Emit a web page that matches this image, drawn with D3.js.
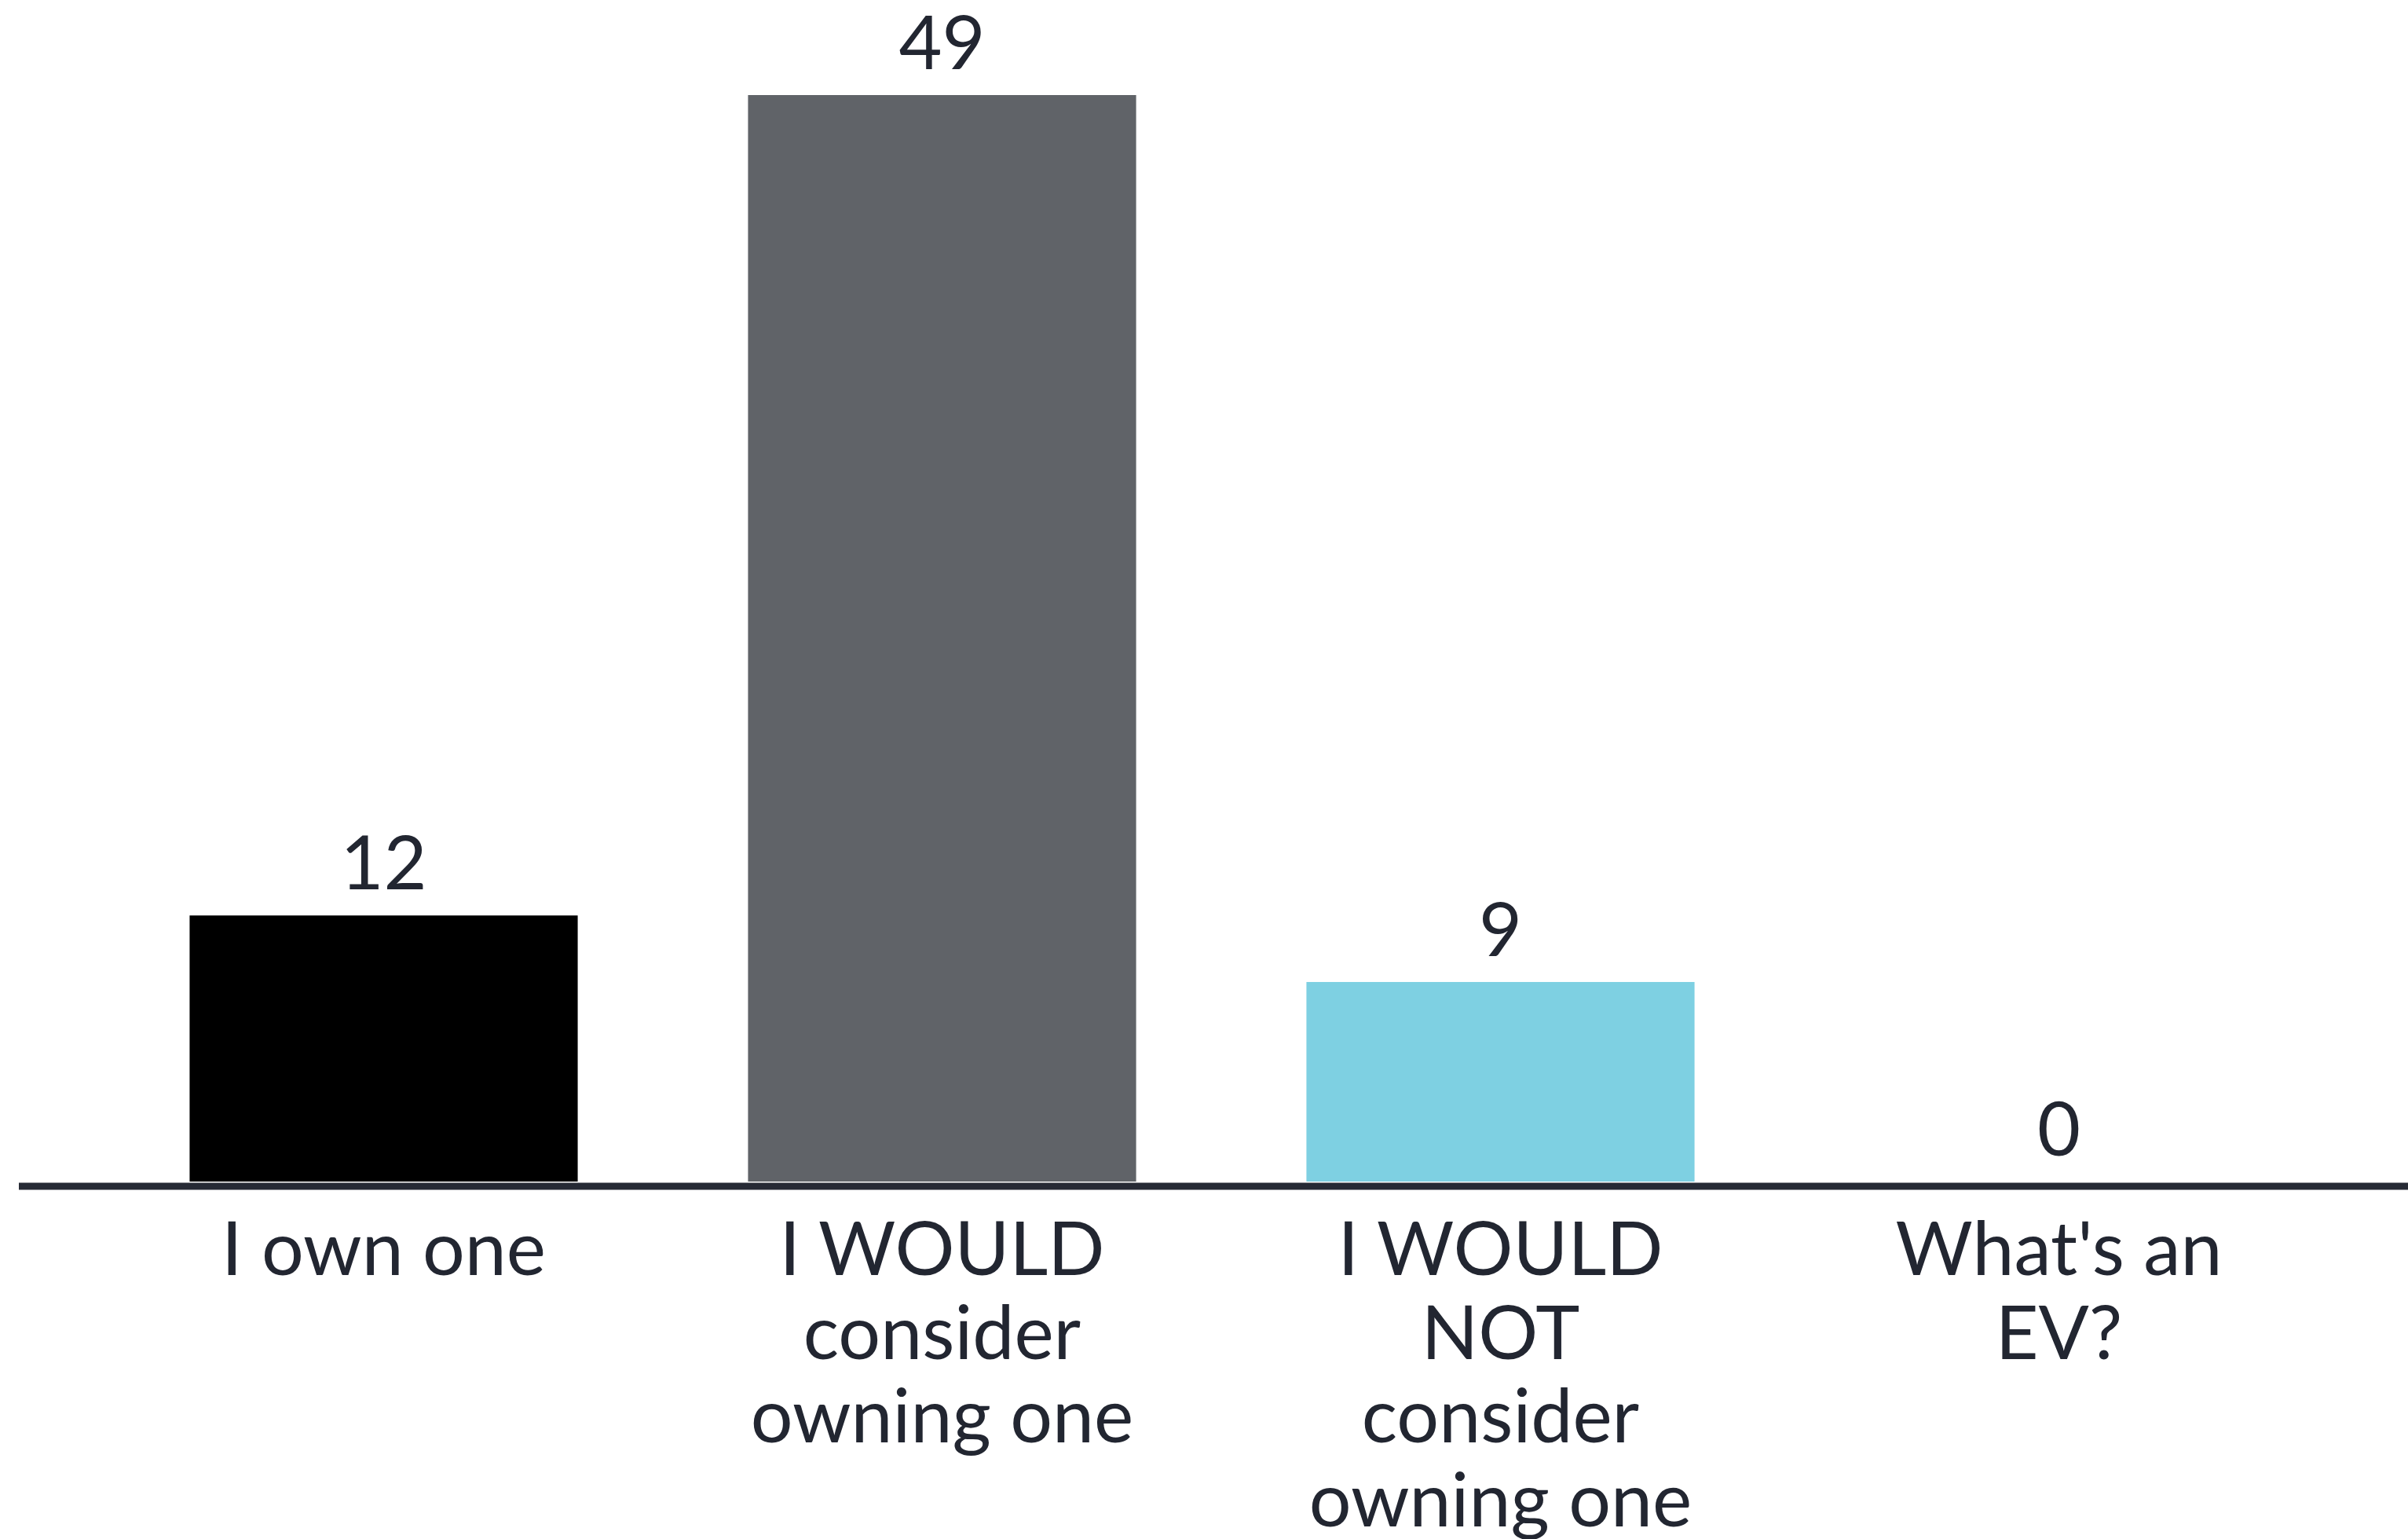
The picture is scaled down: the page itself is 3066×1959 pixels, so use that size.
<!DOCTYPE html>
<html>
<head>
<meta charset="utf-8">
<script src="https://cdn.jsdelivr.net/npm/d3@7"></script>
<style>
  html, body { margin: 0; padding: 0; background: #ffffff; }
  svg { display: block; }
</style>
</head>
<body>
<svg id="chart" width="3066" height="1959"></svg>
<script>
// Survey answers about electric vehicle ownership
const categories = [
  ["I own one"],
  ["I WOULD", "consider", "owning one"],
  ["I WOULD", "NOT", "consider", "owning one"],
  ["What's an", "EV?"]
];
const values = [12, 49, 9, 0];
const barColors = ["#000000", "#606368", "#7ed0e2", "#7ed0e2"];

const W = 3066, H = 1959;
const baseY = 1504;
const svg = d3.select("#chart");
const font = "Lato, 'Noto Sans', sans-serif";
const ink = "#222631";
const fontSize = 95;

const x = d3.scaleBand()
  .domain(d3.range(categories.length))
  .range([133, 2977])
  .paddingInner(0.305)
  .paddingOuter(0.1525);

const y = d3.scaleLinear()
  .domain([0, 49])
  .range([baseY, 121]);

// bars
svg.append("g").selectAll("rect")
  .data(values)
  .join("rect")
  .attr("x", (d, i) => x(i))
  .attr("width", x.bandwidth())
  .attr("y", d => y(d))
  .attr("height", d => baseY - y(d))
  .attr("fill", (d, i) => barColors[i]);

// baseline
svg.append("line")
  .attr("x1", 24).attr("x2", W)
  .attr("y1", baseY + 6).attr("y2", baseY + 6)
  .attr("stroke", "#262a35")
  .attr("stroke-width", 9);

// value labels above bars
svg.append("g").selectAll("text")
  .data(values)
  .join("text")
  .attr("x", (d, i) => x(i) + x.bandwidth() / 2)
  .attr("y", d => y(d) - 33)
  .attr("text-anchor", "middle")
  .attr("font-family", font)
  .attr("font-size", fontSize)
  .attr("fill", ink)
  .text(d => d);

// category labels, one tspan per line
const labels = svg.append("g").selectAll("text")
  .data(categories)
  .join("text")
  .attr("text-anchor", "middle")
  .attr("font-family", font)
  .attr("font-size", fontSize)
  .attr("fill", ink);

labels.each(function(lines, i) {
  const cx = x(i) + x.bandwidth() / 2;
  d3.select(this).selectAll("tspan")
    .data(lines)
    .join("tspan")
    .attr("x", cx)
    .attr("y", (l, j) => 1623 + j * 106.7)
    .text(l => l);
});
</script>
</body>
</html>
